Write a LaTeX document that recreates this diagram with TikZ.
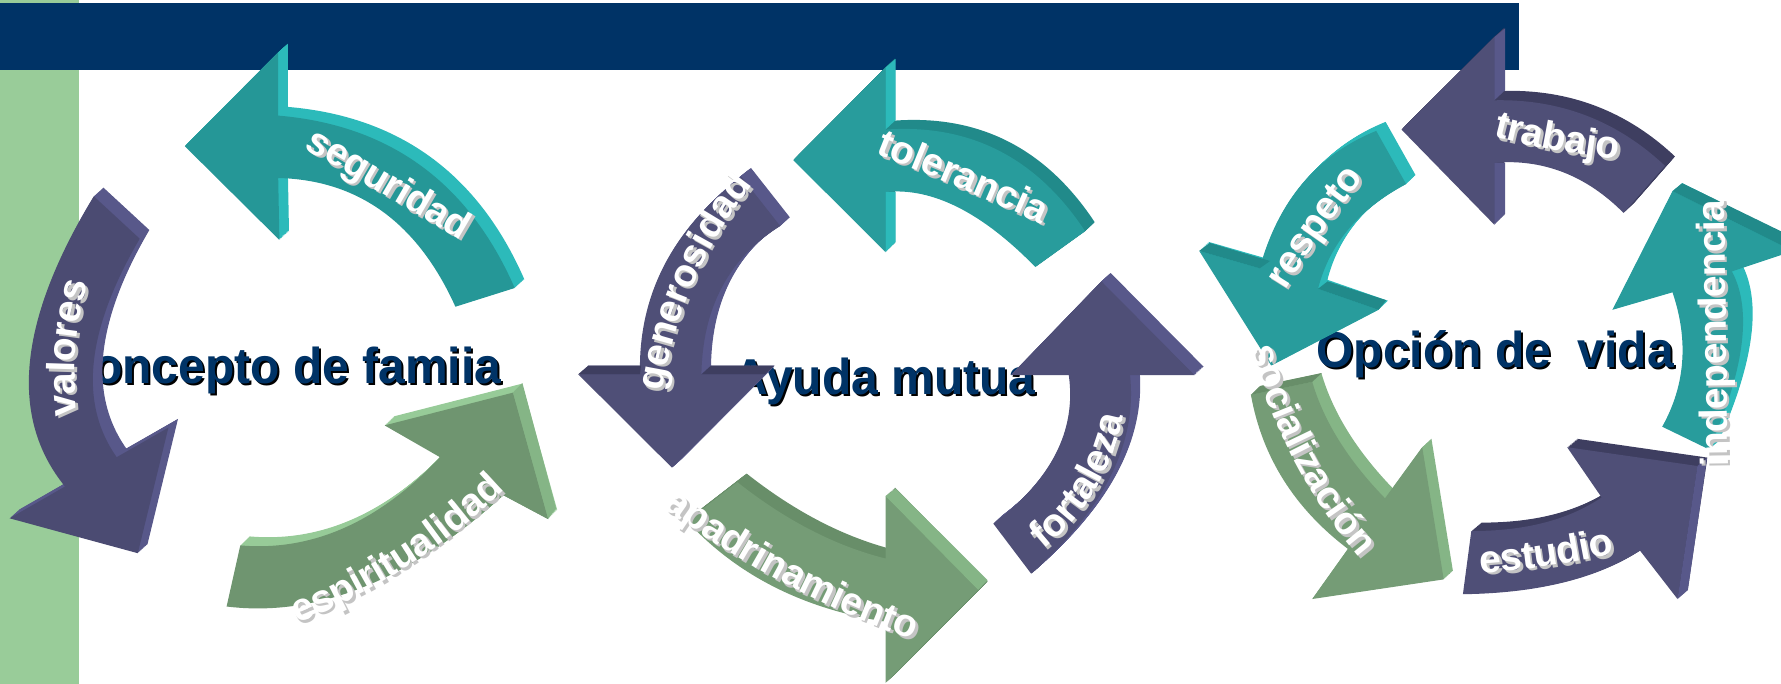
\documentclass[tikz,border=0pt]{standalone}
\usepackage{fontspec}
\setmainfont{Liberation Sans}
\definecolor{navy}{HTML}{003366}
\definecolor{barg}{HTML}{99CC99}
\definecolor{tealA}{HTML}{259797}
\definecolor{tealB}{HTML}{289C9C}
\definecolor{tealL}{HTML}{2CBABA}
\definecolor{tealD}{HTML}{218A8A}
\definecolor{purA}{HTML}{4B4B72}
\definecolor{purB}{HTML}{4F4F77}
\definecolor{purL}{HTML}{58588A}
\definecolor{purD}{HTML}{3E3E60}
\definecolor{grnA}{HTML}{6F9570}
\definecolor{grnB}{HTML}{759C76}
\definecolor{grnL}{HTML}{97CB98}
\definecolor{grnM}{HTML}{85B586}
\definecolor{grnD}{HTML}{688E69}
\definecolor{lblshadow}{HTML}{C4C4C4}
\def\arcc(#1,#2)(#3,#4)(#5,#6){(#1,#2) .. controls ({#1+0.6667*(2*#3-1.5*#1-0.5*#5)},{#2+0.6667*(2*#4-1.5*#2-0.5*#6)}) and ({#5+0.6667*(2*#3-0.5*#1-1.5*#5)},{#6+0.6667*(2*#4-0.5*#2-1.5*#6)}) .. (#5,#6)}
\newcommand\solidarrow[5]{%
  \foreach \s in {1,...,12}{\fill[#4,shift={({\s/12*#2},{\s/12*#3})}] #1;}%
  \fill[#5] #1;}
\newcommand\lblfont{\fontsize{19.5}{21}\selectfont\bfseries}
% advance widths of the label letters, in em
\def\setw#1#2{\expandafter\def\csname wwid@#1\endcsname{#2}}
\setw{a}{0.556}\setw{b}{0.611}\setw{c}{0.556}\setw{d}{0.611}\setw{e}{0.556}\setw{f}{0.333}
\setw{g}{0.611}\setw{i}{0.278}\setw{j}{0.278}\setw{l}{0.278}\setw{m}{0.889}\setw{n}{0.611}
\setw{o}{0.611}\setw{p}{0.611}\setw{r}{0.389}\setw{s}{0.556}\setw{t}{0.333}\setw{u}{0.611}
\setw{v}{0.556}\setw{z}{0.5}\setw{ó}{0.611}
\newdimen\wem \wem=38pt
\newdimen\wtot \newdimen\wpos \newdimen\wlw \newcount\wn
\let\wend\relax
\def\wmeasure#1{\ifx#1\wend\else\global\advance\wtot by \csname wwid@#1\endcsname\wem \expandafter\wmeasure\fi}
\def\wplace#1{\ifx#1\wend\else
  \global\wlw=\csname wwid@#1\endcsname\wem
  \pgfmathsetmacro\wuu{\the\wpos+0.5*\the\wlw}%
  \pgfmathsetmacro\wrr{\wuu/\wL}%
  \pgfmathsetmacro\wvv{\wvo*(1-4*\wrr*\wrr)}%
  \pgfmathsetmacro\wx{\wCx+\wuu*\wcc+\wvv*\wss+\wox}%
  \pgfmathsetmacro\wy{\wCy-\wuu*\wss+\wvv*\wcc+\woy}%
  \pgfmathsetmacro\wrot{\waa-atan(-8*(\wvo/\wL)*\wrr)}%
  \global\advance\wn by 1
  \node[lettertext,text=\wcolor,rotate=\wrot] (wl\the\wn) at (\wx,\wy) {#1};%
  \global\advance\wpos by \wlw
  \expandafter\wplace\fi}
\def\wordon#1(#2,#3)(#4,#5)(#6,#7){%
  \pgfmathsetmacro\waa{atan2(-(#7-#3),#6-#2)}%
  \pgfmathsetmacro\wcc{cos(\waa)}\pgfmathsetmacro\wss{sin(\waa)}%
  \pgfmathsetmacro\wL{veclen(#6-#2,#7-#3)}%
  \pgfmathsetmacro\wCx{0.5*(#2+#6)}\pgfmathsetmacro\wCy{0.5*(#3+#7)}%
  \pgfmathsetmacro\wvo{(#4-\wCx)*\wss+(#5-\wCy)*\wcc}%
  \global\wtot=0pt \wmeasure#1\wend
  \global\wpos=-0.5\wtot \def\wox{2.5}\def\woy{2.5}\def\wcolor{lblshadow}\wplace#1\wend
  \global\wpos=-0.5\wtot \def\wox{0}\def\woy{0}\def\wcolor{white}\wplace#1\wend}
\tikzset{titletext/.style={font=\fontsize{24}{26}\selectfont\bfseries,yscale=1.05,anchor=base west,inner sep=0pt},
 lettertext/.style={font=\lblfont,anchor=base,inner sep=0pt}}
\begin{document}
\begin{tikzpicture}[x=0.5pt,y=-0.5pt]
\useasboundingbox (0,0) rectangle (1781,684);
\clip (0,0) rectangle (1781,684);
\fill[white] (0,0) rectangle (1781,684);
\fill[barg] (0,0) rectangle (78.5,684);
\fill[navy] (0,3) rectangle (1519,70);
% titles (beneath the arrows)
\node[titletext,text=black] (t1s) at (60,385) {Concepto de famiia};
\node[titletext,text=navy] (t1) at (58,383) {Concepto de famiia};
\node[titletext,text=black] (t2s) at (735,396) {Ayuda mutua};
\node[titletext,text=navy] (t2) at (733,394) {Ayuda mutua};
\node[titletext,text=black] (t3s) at (1318,369.5) {Opción de\ \ vida};
\node[titletext,text=navy] (t3) at (1316,367.5) {Opción de\ \ vida};
% 1 seguridad
\solidarrow{(184.8,146.2) -- (278.2,52.4) -- (278.2,115.6) -- \arcc(278.2,115.6)(421,165.8)(514.7,288) -- (455.4,306.7) -- \arcc(455.4,306.7)(382.7,211.6)(278.2,178) -- (279.4,240) -- cycle}{9.6}{-8.7}{tealL}{tealA}
% 2 valores
\solidarrow{\arcc(93.8,196.3)(29.9,362)(65,486.5) -- (9.6,518.3) -- (137.8,553.2) -- (168.4,427.6) -- \arcc(116.7,457.2)(93.8,362)(139.7,238.7) -- cycle}{9.6}{-8.7}{purL}{purA}
% 3 espiritualidad
\solidarrow{\arcc(226.6,606.5)(363.6,587)(503.3,495.2) -- (548,519) -- (512.8,392.7) -- (384.6,425.4) -- \arcc(440,457.2)(344,528)(240.3,545.4) -- cycle}{9.2}{-9}{grnL}{grnA}
\fill[grnM] (512.8,392.7) -- (522.4,383) -- (556,508.3) -- (548,519) -- cycle;
\fill[grnA] (512.8,392.7) -- (548,519) -- (503,495) -- cycle;
% 4 tolerancia
\solidarrow{(793.3,160.1) -- (885.5,67.6) -- \arcc(885.5,129.6)(998.6,150.5)(1085.1,231.2) -- \arcc(1035.3,267)(957.8,207.2)(885.5,192) -- (885.5,252.2) -- cycle}{9.6}{-9}{tealD}{tealB}
\fill[tealL] (885.5,67.6) -- (895.7,58.9) -- (895.7,120) -- (885.5,129.6) -- cycle;
\fill[tealL] (885.5,192) -- (895.7,192) -- (895.7,242) -- (885.5,252.2) -- cycle;
% 5 generosidad
\solidarrow{\arcc(741.4,176.7)(663.9,266)(640,374.3) -- (578.2,374.3) -- (672,467.7) -- (765.1,374.3) -- \arcc(701.4,374.3)(722,287)(780.2,226) -- cycle}{9.6}{-8.7}{purL}{purB}
\fill[purD] (578.2,374.3) -- (588.4,365.6) -- (641,365.6) -- (640,374.3) -- cycle;
\fill[purD] (701.4,374.3) -- (711,365.6) -- (774,365.6) -- (765.1,374.3) -- cycle;
% 6 fortaleza
\solidarrow{(993.3,523.6) -- \arcc(1031.2,573.7)(1110.8,475.6)(1130,375.2) -- (1194.5,375.2) -- (1101.4,281.4) -- (1010.8,375.2) -- \arcc(1068.8,375.2)(1055.7,453.8)(993.3,523.6) -- cycle}{9.2}{-8.4}{purL}{purB}
% 7 apadrinamiento
\solidarrow{\arcc(687,521)(774,586.8)(885.5,621.7) -- (885.5,682.8) -- (978.2,589.9) -- (885.5,496) -- \arcc(885.5,558.5)(810.8,530)(737.3,482.1) -- cycle}{9.4}{-8.5}{grnD}{grnB}
\fill[grnM] (885.5,496) -- (895.7,488.6) -- (987.6,580.2) -- (978.2,589.9) -- cycle;
% 8 trabajo
\solidarrow{(1401.5,129.6) -- (1494.3,37.1) -- \arcc(1494.3,100.3)(1586.3,115.6)(1664.9,165.8) -- \arcc(1623.5,212.9)(1563.3,172.3)(1494.3,162.7) -- (1494.3,224.7) -- cycle}{10}{-9.4}{purD}{purB}
\fill[purL] (1494.3,37.1) -- (1505,28.4) -- (1505,90.3) -- (1494.3,100.3) -- cycle;
\fill[purL] (1494.3,162.7) -- (1505,162.7) -- (1505,213.8) -- (1494.3,224.7) -- cycle;
% 9 respeto
\solidarrow{\arcc(1376.2,130.9)(1302.7,183.2)(1259.7,268.3) -- (1199.2,250.9) -- (1271.2,365.6) -- (1378.5,309.8) -- \arcc(1318,288.8)(1348.6,229)(1406.1,184.1) -- cycle}{9.4}{-9}{tealL}{tealB}
\fill[tealD] (1199.2,250.9) -- (1209.9,243) -- (1270,261) -- (1259.7,268.3) -- cycle;
\fill[tealD] (1318,288.8) -- (1327.6,281.4) -- (1386.2,300.2) -- (1378.5,309.8) -- cycle;
% 10 independencia
\solidarrow{(1662.2,426.7) -- \arcc(1709,449.4)(1741.5,344.7)(1731.9,271.4) -- (1793,251) -- (1672.5,191.1) -- (1612.4,309.8) -- \arcc(1672.5,292.3)(1682.1,362.1)(1662.2,426.7) -- cycle}{9.6}{-8}{tealL}{tealB}
\fill[tealD] (1672.5,191.1) -- (1682.1,183.2) -- (1803,242) -- (1793,251) -- cycle;
% 11 estudio
\solidarrow{\arcc(1462.9,594.2)(1563.3,582.5)(1640,550.6) -- (1677.5,599) -- (1697.4,466) -- (1567.1,447.2) -- \arcc(1601.6,497.4)(1544.1,522.7)(1471.3,531) -- cycle}{10}{-8.4}{purD}{purB}
\fill[purL] (1697.4,466) -- (1707,458) -- (1687.9,589.9) -- (1677.5,599) -- cycle;
% 12 socializacion
\solidarrow{\arcc(1250.9,394.8)(1283.5,479.9)(1347.9,548.9) -- (1312.2,599) -- (1443.7,579.4) -- (1422.2,447.2) -- \arcc(1385,498.3)(1339.1,440.7)(1312.2,381.8) -- cycle}{9.2}{-8.5}{grnM}{grnB}
\fill[grnD] (1250.9,394.8) -- (1260,386) -- (1321.8,373) -- (1312.2,381.8) -- cycle;
% words
\wordon{seguridad}(308,150.5)(378.9,192)(457,237.8)
\wordon{valores}(76.5,412)(76,349)(87.3,285.8)
\wordon{espiritualidad}(302.3,621.7)(413.3,562.8)(501.3,493)
\wordon{tolerancia}(879,154.9)(958.6,187.6)(1038.2,222.5)
\wordon{generosidad}(663,388.3)(695.6,279.2)(751,187.6)
\wordon{apadrinamiento}(670,512.7)(786.3,584.6)(904.7,637)
\wordon{fortaleza}(1045.5,547.6)(1096.5,488.7)(1123,418.8)
\wordon{trabajo}(1496.2,137.4)(1555.6,150.5)(1615,159.3)
\wordon{respeto}(1289.2,283.6)(1325.6,229)(1359.4,183.2)
\wordon{independencia}(1728,461.6)(1726.2,331.6)(1724.3,204.2)
\wordon{estudio}(1482.8,573)(1548,566)(1613,554)
\wordon{socialización}(1252,352)(1292.2,456.8)(1357.4,554.9)
\end{tikzpicture}
\end{document}
